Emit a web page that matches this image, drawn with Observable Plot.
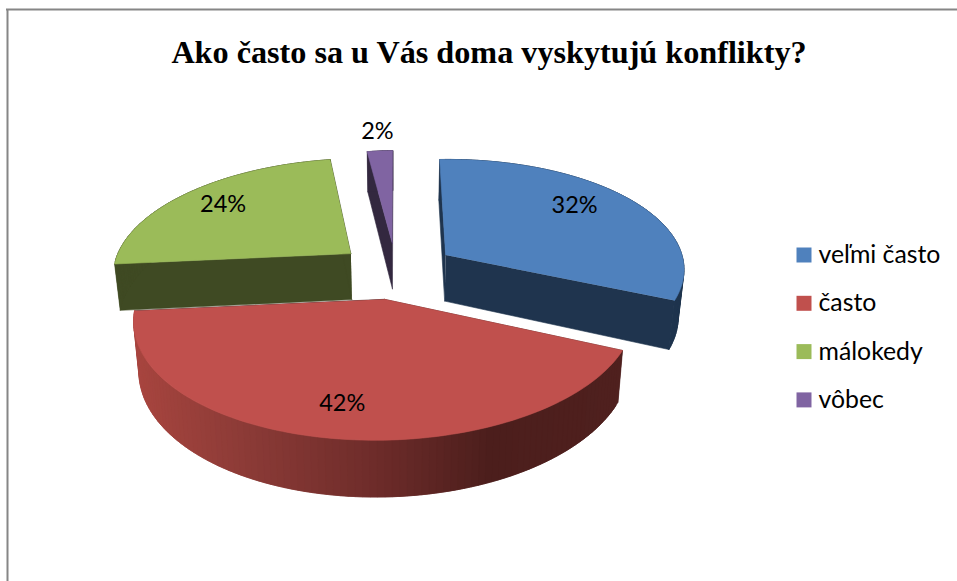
<!DOCTYPE html>
<html>
<head>
<meta charset="utf-8">
<script src="https://cdn.jsdelivr.net/npm/d3@7"></script>
<script src="https://cdn.jsdelivr.net/npm/@observablehq/plot@0.6"></script>
<style>html,body{margin:0;padding:0;background:#fff}svg{display:block}</style>
</head>
<body>
<div id="chart"></div>
<script>
const categories = ["veľmi často", "často", "málokedy", "vôbec"];
const values = [32, 42, 24, 2];
const topColors = ["#4f81bd", "#c0504d", "#9bbb59", "#8064a2"];
const sideColors = ["#1f344e", "#4a1d1c", "#3f4a23", "#33283f"];
const labelRadius = [0.757, 0.78, 0.785, 1.24];
const labelTurn = [-5.6, 0, 1, 0];
const chartTitle = "Ako často sa u Vás doma vyskytujú konflikty?";

// 3D pie view
const W = 957, H = 581;
const view = {cx: 395.5, cy: 270, a: 239.5, b: 112.6, k: 0.1385, depth: 47, shrink: 0.98, explode: 0.25, tilt: 0.015};
const rad = d => d * Math.PI / 180;
function project(X, Y, lower = false) {
  const s = 1 / (1 - view.k * Y);
  const d = lower ? view.depth * s : 0;
  const m = lower ? view.shrink : 1;
  const dx = view.a * X * s;
  return {x: view.cx + dx * m, y: view.cy + view.b * Y * s + d - view.tilt * dx};
}
const polar = (deg, r) => ({X: r * Math.sin(rad(deg)), Y: -r * Math.cos(rad(deg))});

const total = d3.sum(values);
let acc = 0;
const slices = values.map((v, i) => {
  const a0 = acc / total * 360; acc += v; const a1 = acc / total * 360;
  const mid = (a0 + a1) / 2, off = polar(mid, view.explode);
  return {i, a0, a1, mid, off};
});
function rimPoint(s, deg, lower) {
  const p = polar(deg, 1);
  return project(s.off.X + p.X, s.off.Y + p.Y, lower);
}
const apex = (s, lower) => project(s.off.X, s.off.Y, lower);

// shading of the red outer wall, left to right
const wallShade = d3.scaleLinear().domain([135, 260, 386, 500, 625])
  .range(["#a8453f", "#8a3a36", "#6e2c2a", "#4c1e1c", "#4f201e"]).clamp(true);

const rows = [];
let faceId = 0;
function addFace(pts, fill) {
  const id = faceId++;
  pts.forEach(p => rows.push({face: id, x: p.x, y: p.y, fill}));
}
for (const order of [3, 2, 0, 1]) {
  const s = slices[order], side = sideColors[order];
  addFace([apex(s), rimPoint(s, s.a0), rimPoint(s, s.a0, true), apex(s, true)], side);
  addFace([apex(s), rimPoint(s, s.a1), rimPoint(s, s.a1, true), apex(s, true)], side);
  const step = (s.a1 - s.a0) / Math.ceil((s.a1 - s.a0) / 1.5);
  // walls run from the far end of the arc back to its start, each strip overlapping the next
  for (let d = s.a1 - step; d >= s.a0 - 1e-6; d -= step) {
    const e = Math.min(d + 2 * step, s.a1);
    const q = [rimPoint(s, d), rimPoint(s, (d + e) / 2), rimPoint(s, e), rimPoint(s, e, true), rimPoint(s, (d + e) / 2, true), rimPoint(s, d, true)];
    addFace(q, order === 1 ? wallShade(q[0].x) : side);
  }
  const top = [apex(s)];
  for (let d = s.a0; d <= s.a1 + 1e-6; d += step) top.push(rimPoint(s, d));
  addFace(top, topColors[order]);
}

const pctLabels = slices.map(s => {
  const p = polar(s.mid + labelTurn[s.i], labelRadius[s.i]);
  const q = project(s.off.X + p.X, s.off.Y + p.Y);
  return {...q, text: values[s.i] + "%"};
});
const legendRows = categories.map((name, i) => ({name, color: topColors[i], y: 254.5 + i * 48.3}));

const chart = Plot.plot({
  width: W, height: H,
  margin: 0,
  x: {domain: [0, W], range: [0, W], axis: null},
  y: {domain: [0, H], range: [0, H], axis: null},
  color: {type: "identity"},
  style: {background: "#fff"},
  marks: [
    Plot.ruleY([9], {x1: 6, x2: W, stroke: "#868686", strokeWidth: 2}),
    Plot.ruleX([7], {y1: 9, y2: H, stroke: "#868686", strokeWidth: 2}),
    Plot.line(rows, {x: "x", y: "y", z: "face", fill: "fill", stroke: "fill", strokeWidth: 0.6, curve: "linear"}),
    Plot.text(pctLabels, {x: "x", y: "y", text: "text", fontFamily: "Lato", fontSize: 23.5, fill: "#000"}),
    Plot.dot(legendRows, {x: () => 803.5, y: "y", symbol: "square", r: 8.46, fill: "color", stroke: null}),
    Plot.text(legendRows, {x: () => 818, y: "y", text: "name", textAnchor: "start", fontFamily: "Lato", fontSize: 24.8, fill: "#000"}),
    Plot.text([chartTitle], {x: () => 488.5, y: () => 52, text: d => d, fontFamily: "Liberation Serif", fontWeight: "bold", fontSize: 32.2, fill: "#000"})
  ]
});
document.getElementById("chart").appendChild(chart);
</script>
</body>
</html>
